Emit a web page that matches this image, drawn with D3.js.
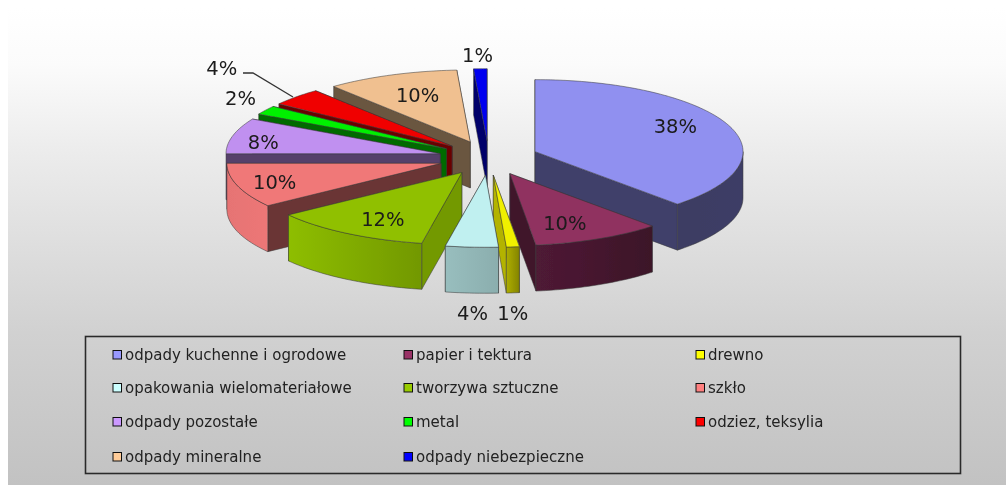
<!doctype html>
<html>
<head>
<meta charset="utf-8">
<title>Odpady</title>
<script src="https://cdnjs.cloudflare.com/ajax/libs/d3/7.8.5/d3.min.js"></script>
<style>
    html, body { margin: 0; padding: 0; background: #fff; }
    svg { display: block; }
    text { font-family: "DejaVu Sans", sans-serif; }
</style>
</head>
<body>
<svg width="1006" height="485"></svg>
<script>
    // data, clockwise from 12 o'clock
    const categories = ["odpady kuchenne i ogrodowe", "papier i tektura", "drewno",
        "opakowania wielomateriałowe", "tworzywa sztuczne", "szkło",
        "odpady pozostałe", "metal", "odziez, teksylia",
        "odpady mineralne", "odpady niebezpieczne"];
    const values = [38, 10, 1, 4, 12, 10, 8, 2, 4, 10, 1];
    const colors = ["#9999ff", "#993366", "#ffff00", "#ccffff", "#99cc00", "#ff8080",
        "#cc99ff", "#00ff00", "#ff0000", "#ffcc99", "#0000ff"];

    // pie geometry
    const cx = 488.6, cy = 158, rx = 208, ry = 72, depth = 46, explode = 0.24;

    // how far each label sits from where the radial placement puts it
    const labelNudge = [[5, -7], [-7, 4], [-3, 55], [2, 55], [-1, 4], [-28, 3],
        [-36, 1], [-4, -6], [-56, -22], [1, 0], [-2, -3]];
    const outsideLabel = [false, false, true, true, false, false, false, true, true, false, true];

    const svg = d3.select("svg");
    const defs = svg.append("defs");

    // background
    const bg = defs.append("linearGradient").attr("id", "bg")
        .attr("gradientUnits", "userSpaceOnUse")
        .attr("x1", 0).attr("y1", 8).attr("x2", 0).attr("y2", 485);
    [[0, "#ffffff"], [0.12, "#fbfbfb"], [0.3, "#ececec"], [0.68, "#d1d1d1"], [1, "#c2c2c2"]].forEach(function(s) {
        bg.append("stop").attr("offset", s[0]).attr("stop-color", s[1]);
    });
    svg.append("rect").attr("x", 8).attr("y", 8).attr("width", 998).attr("height", 477).attr("fill", "url(#bg)");

    const soft = defs.append("filter").attr("id", "soft");
    soft.append("feGaussianBlur").attr("stdDeviation", 0.45);

    const root = svg.append("g").attr("filter", "url(#soft)");

    // brightness of the outer wall by direction (deg clockwise from top)
    const outerShade = d3.scaleLinear()
        .domain([90, 137, 173, 176, 190, 234, 270])
        .range([0.4, 0.39, 0.52, 0.68, 0.74, 0.93, 0.9]);

    function wallShade(name) {
        if (name === "tworzywa sztuczne") return 0.75;
        if (name === "drewno") return 0.7;
        return 0.42;
    }

    function shade(color, k) {
        const c = d3.rgb(color);
        return d3.rgb(c.r * k, c.g * k, c.b * k).formatHex();
    }

    const slices = d3.pie().sort(null)(values).map(function(d, i) {
        const mid = (d.startAngle + d.endAngle) / 2;
        return {
            i: i,
            name: categories[i],
            color: colors[i],
            a0: d.startAngle,
            a1: d.endAngle,
            mid: mid,
            ox: cx + explode * rx * Math.sin(mid),
            oy: cy - explode * ry * Math.cos(mid)
        };
    });

    // the left half of the pie runs a bit wider in the reference
    function rim(s, a) {
        const w = a > Math.PI ? rx * 1.03 : rx;
        return [s.ox + w * Math.sin(a), s.oy - ry * Math.cos(a)];
    }

    const line = d3.line();

    function arcPoints(s, a0, a1) {
        const n = Math.max(2, Math.ceil((a1 - a0) * 40));
        return d3.range(n + 1).map(function(j) { return rim(s, a0 + (a1 - a0) * j / n); });
    }

    const edge = { stroke: "#3a3a3a", "stroke-width": 0.7, "stroke-opacity": 0.75, "stroke-linejoin": "round" };

    function face(g, pts, fill) {
        const p = g.append("path").attr("d", line(pts) + "Z").attr("fill", fill);
        Object.keys(edge).forEach(function(k) { p.attr(k, edge[k]); });
        return p;
    }

    // back to front
    const order = slices.slice().sort(function(a, b) { return d3.descending(Math.cos(a.mid), Math.cos(b.mid)); });

    order.forEach(function(s) {
        const g = root.append("g");
        const apex = [s.ox, s.oy];
        const down = function(p) { return [p[0], p[1] + depth]; };

        // radial walls, the one turned away from the viewer first
        const walls = [
            { a: s.a0, facing: Math.cos(s.a0 - Math.PI / 2) },
            { a: s.a1, facing: Math.cos(s.a1 + Math.PI / 2) }
        ].sort(function(p, q) { return d3.descending(p.facing, q.facing); });
        walls.forEach(function(w) {
            const r = rim(s, w.a);
            face(g, [apex, r, down(r), down(apex)], shade(s.color, wallShade(s.name)));
        });

        // outer wall, only the part that faces the viewer
        const v0 = Math.max(s.a0, Math.PI / 2), v1 = Math.min(s.a1, Math.PI * 1.5);
        if (v1 > v0) {
            const pts = arcPoints(s, v0, v1);
            const id = "wall" + s.i;
            const grad = defs.append("linearGradient").attr("id", id)
                .attr("gradientUnits", "userSpaceOnUse")
                .attr("x1", pts[0][0]).attr("y1", 0)
                .attr("x2", pts[pts.length - 1][0]).attr("y2", 0);
            grad.append("stop").attr("offset", 0)
                .attr("stop-color", shade(s.color, outerShade(v0 * 180 / Math.PI)));
            grad.append("stop").attr("offset", 1)
                .attr("stop-color", shade(s.color, outerShade(v1 * 180 / Math.PI)));
            face(g, pts.concat(pts.map(down).reverse()), "url(#" + id + ")");
        }

        // top
        face(g, [apex].concat(arcPoints(s, s.a0, s.a1)), shade(s.color, 0.94));
    });

    // percent labels
    const labelG = root.append("g");
    slices.forEach(function(s) {
        const k = explode + (outsideLabel[s.i] ? 1.15 : 0.7);
        labelG.append("text")
            .attr("x", cx + rx * k * Math.sin(s.mid) + labelNudge[s.i][0])
            .attr("y", cy - ry * k * Math.cos(s.mid) + labelNudge[s.i][1])
            .attr("dy", "0.36em")
            .attr("text-anchor", "middle")
            .attr("font-size", 19.5)
            .attr("fill", "#1a1a1a")
            .text(values[s.i] + "%");
    });

    // leader for the 4% label
    root.append("path")
        .attr("d", line([[243, 73], [253, 73], [293, 97]]))
        .attr("fill", "none").attr("stroke", "#333").attr("stroke-width", 1.3);

    // legend
    const legendX = [113, 404, 696], legendY = [355, 388, 422, 457];
    root.append("rect").attr("x", 85.5).attr("y", 336.5).attr("width", 875).attr("height", 137)
        .attr("fill", "none").attr("stroke", "#2a2a2a").attr("stroke-width", 1.6);

    const legend = root.selectAll(".leg").data(d3.range(categories.length)).enter().append("g").attr("class", "leg")
        .attr("transform", function(d, i) {
            return "translate(" + legendX[i % 3] + "," + legendY[Math.floor(i / 3)] + ")";
        });
    legend.append("rect").attr("x", 0).attr("y", -4.5).attr("width", 8.5).attr("height", 8.5)
        .attr("fill", function(d) { return colors[d]; })
        .attr("stroke", "#111").attr("stroke-width", 1);
    legend.append("text").attr("x", 12).attr("dy", "0.33em")
        .attr("font-size", 15).attr("fill", "#222")
        .text(function(d) { return categories[d]; });
</script>
</body>
</html>
